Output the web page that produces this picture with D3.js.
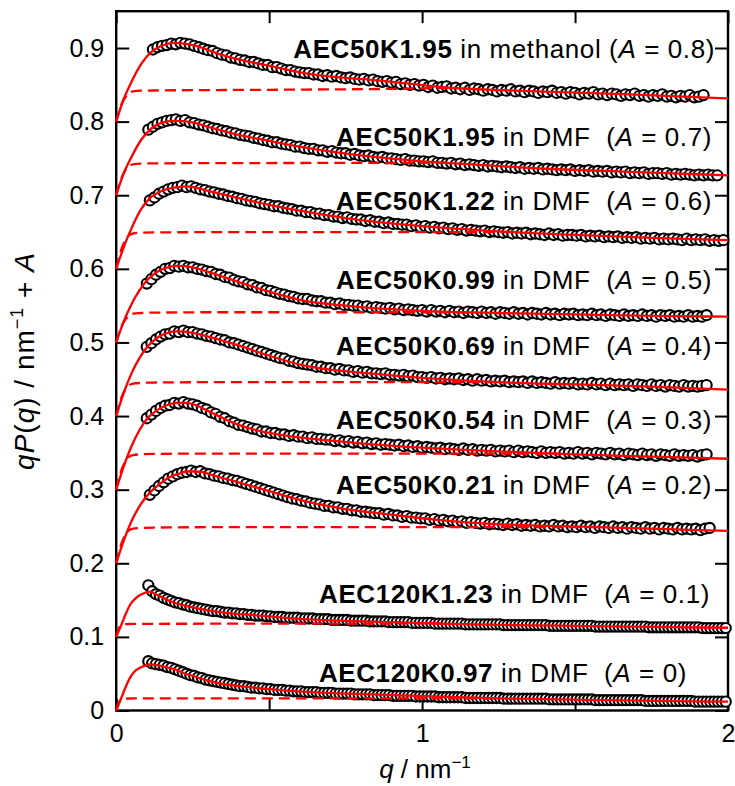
<!DOCTYPE html>
<html><head><meta charset="utf-8">
<script src="https://cdn.jsdelivr.net/npm/d3@7"></script>
<style>
html,body{margin:0;padding:0;background:#fff;}
svg{display:block;font-family:"Liberation Sans",Arial,Helvetica,sans-serif;}
text{white-space:pre;}
</style></head><body>
<svg id="chart" width="735" height="786"></svg>
<script>
// ---------------- DATA ----------------
const offsets = [0.8, 0.7, 0.6, 0.5, 0.4, 0.3, 0.2, 0.1, 0];
const offsetLabels = ["0.8", "0.7", "0.6", "0.5", "0.4", "0.3", "0.2", "0.1", "0"];
const sampleNames = ["AEC50K1.95", "AEC50K1.95", "AEC50K1.22", "AEC50K0.99", "AEC50K0.69", "AEC50K0.54", "AEC50K0.21", "AEC120K1.23", "AEC120K0.97"];
const solventTexts = [" in methanol (", " in DMF  (", " in DMF  (", " in DMF  (", " in DMF  (", " in DMF  (", " in DMF  (", " in DMF  (", " in DMF  ("];
// measured q grid (nm^-1): first q and step
const qStart = [0.12, 0.105, 0.11, 0.10, 0.10, 0.10, 0.11, 0.105, 0.105];
const qStep = [0.015, 0.015, 0.015, 0.015, 0.015, 0.015, 0.015, 0.0125, 0.0125];

// measured qP(q) / nm^-1 (without offset A)
const qP_AEC50K195_MeOH = [0.098,0.101,0.103,0.104,0.106,0.105,0.107,0.106,0.105,0.103,
0.101,0.099,0.097,0.096,0.093,0.091,0.090,0.087,0.086,0.084,
0.083,0.081,0.081,0.079,0.077,0.077,0.074,0.074,0.072,0.070,
0.070,0.068,0.067,0.066,0.066,0.064,0.064,0.062,0.063,0.061,
0.062,0.060,0.059,0.060,0.058,0.057,0.058,0.056,0.057,0.055,
0.054,0.055,0.053,0.054,0.051,0.052,0.050,0.051,0.049,0.050,
0.047,0.049,0.046,0.047,0.048,0.045,0.046,0.044,0.046,0.043,
0.045,0.044,0.042,0.044,0.043,0.041,0.043,0.042,0.044,0.041,
0.042,0.040,0.042,0.041,0.039,0.041,0.040,0.042,0.039,0.040,
0.038,0.040,0.039,0.037,0.039,0.038,0.040,0.037,0.038,0.036,
0.038,0.037,0.035,0.037,0.036,0.038,0.035,0.036,0.034,0.036,
0.035,0.037,0.034,0.035,0.033,0.035,0.034,0.036,0.033,0.034,
0.036];
const qP_AEC50K195_DMF = [0.089,0.093,0.097,0.099,0.101,0.102,0.103,0.101,0.102,0.099,
0.098,0.096,0.095,0.093,0.091,0.090,0.088,0.087,0.085,0.084,
0.082,0.081,0.080,0.078,0.077,0.075,0.074,0.072,0.072,0.070,
0.069,0.068,0.066,0.066,0.064,0.063,0.063,0.061,0.061,0.059,
0.060,0.058,0.057,0.057,0.055,0.056,0.054,0.053,0.054,0.052,
0.051,0.052,0.050,0.050,0.049,0.048,0.049,0.047,0.047,0.046,
0.046,0.045,0.046,0.044,0.044,0.043,0.044,0.042,0.043,0.041,
0.042,0.041,0.040,0.041,0.039,0.040,0.039,0.038,0.039,0.038,
0.037,0.038,0.036,0.037,0.036,0.037,0.035,0.036,0.035,0.034,
0.035,0.034,0.035,0.033,0.034,0.033,0.034,0.032,0.033,0.032,
0.033,0.031,0.032,0.031,0.032,0.030,0.031,0.030,0.031,0.029,
0.030,0.030,0.029,0.030,0.028,0.029,0.028,0.029,0.028,0.027,
0.028,0.027,0.028,0.027,0.027];
const qP_AEC50K122_DMF = [0.093,0.097,0.102,0.105,0.108,0.110,0.111,0.113,0.111,0.112,
0.110,0.108,0.107,0.105,0.104,0.102,0.101,0.099,0.098,0.096,
0.095,0.093,0.092,0.091,0.089,0.088,0.087,0.085,0.085,0.083,
0.082,0.081,0.079,0.079,0.077,0.077,0.075,0.075,0.073,0.073,
0.071,0.071,0.069,0.070,0.068,0.067,0.067,0.065,0.066,0.064,
0.064,0.062,0.063,0.061,0.061,0.060,0.060,0.058,0.059,0.057,
0.058,0.056,0.057,0.055,0.056,0.054,0.055,0.053,0.054,0.052,
0.053,0.052,0.051,0.052,0.050,0.051,0.050,0.049,0.050,0.048,
0.049,0.048,0.049,0.047,0.048,0.047,0.046,0.048,0.046,0.047,
0.045,0.046,0.046,0.045,0.046,0.044,0.045,0.044,0.045,0.043,
0.044,0.043,0.044,0.042,0.043,0.042,0.043,0.041,0.042,0.041,
0.042,0.040,0.041,0.040,0.041,0.040,0.039,0.041,0.039,0.040,
0.039,0.040,0.038,0.039,0.038,0.039];
const qP_AEC50K099_DMF = [0.080,0.086,0.092,0.096,0.100,0.101,0.104,0.103,0.104,0.102,
0.102,0.100,0.099,0.097,0.096,0.093,0.092,0.089,0.088,0.085,
0.083,0.082,0.079,0.078,0.075,0.074,0.071,0.070,0.068,0.066,
0.065,0.063,0.062,0.060,0.059,0.059,0.057,0.056,0.056,0.054,
0.054,0.052,0.053,0.051,0.051,0.050,0.050,0.048,0.049,0.047,
0.048,0.047,0.046,0.047,0.045,0.046,0.044,0.045,0.044,0.043,
0.044,0.042,0.044,0.042,0.043,0.041,0.043,0.041,0.042,0.040,
0.042,0.041,0.040,0.042,0.040,0.041,0.039,0.041,0.040,0.039,
0.041,0.039,0.040,0.038,0.040,0.039,0.038,0.040,0.038,0.039,
0.037,0.039,0.038,0.039,0.037,0.038,0.037,0.039,0.037,0.038,
0.036,0.038,0.037,0.036,0.038,0.036,0.037,0.036,0.038,0.036,
0.037,0.035,0.037,0.036,0.037,0.035,0.036,0.035,0.037,0.035,
0.036,0.035,0.037];
const qP_AEC50K069_DMF = [0.094,0.099,0.104,0.108,0.111,0.112,0.115,0.114,0.116,0.114,
0.114,0.112,0.111,0.109,0.108,0.106,0.104,0.103,0.100,0.099,
0.097,0.095,0.093,0.091,0.089,0.087,0.085,0.083,0.081,0.079,
0.078,0.075,0.074,0.072,0.071,0.070,0.069,0.067,0.067,0.065,
0.065,0.063,0.064,0.062,0.062,0.060,0.061,0.059,0.060,0.058,
0.058,0.057,0.058,0.056,0.056,0.055,0.056,0.054,0.055,0.053,
0.053,0.052,0.053,0.051,0.052,0.050,0.051,0.050,0.051,0.049,
0.050,0.048,0.050,0.048,0.049,0.047,0.048,0.047,0.048,0.046,
0.047,0.046,0.047,0.045,0.047,0.045,0.046,0.045,0.044,0.046,
0.044,0.045,0.044,0.045,0.043,0.044,0.043,0.045,0.043,0.044,
0.042,0.044,0.042,0.043,0.042,0.043,0.041,0.043,0.042,0.041,
0.043,0.041,0.042,0.040,0.042,0.041,0.040,0.042,0.040,0.041,
0.040,0.041,0.042];
const qP_AEC50K054_DMF = [0.097,0.102,0.107,0.111,0.114,0.115,0.118,0.117,0.119,0.117,
0.116,0.114,0.111,0.109,0.105,0.103,0.099,0.097,0.093,0.091,
0.088,0.087,0.085,0.083,0.082,0.079,0.079,0.077,0.077,0.075,
0.075,0.073,0.074,0.072,0.072,0.070,0.071,0.069,0.069,0.068,
0.068,0.066,0.067,0.065,0.066,0.064,0.065,0.063,0.064,0.062,
0.063,0.061,0.062,0.061,0.060,0.061,0.059,0.060,0.058,0.059,
0.057,0.058,0.057,0.056,0.057,0.055,0.056,0.055,0.054,0.056,
0.054,0.055,0.053,0.054,0.053,0.054,0.052,0.053,0.052,0.053,
0.051,0.053,0.051,0.052,0.051,0.050,0.052,0.050,0.051,0.050,
0.051,0.049,0.050,0.049,0.051,0.049,0.050,0.048,0.050,0.049,
0.048,0.050,0.048,0.049,0.047,0.049,0.048,0.047,0.049,0.047,
0.048,0.046,0.048,0.047,0.046,0.048,0.046,0.047,0.046,0.047,
0.045,0.047,0.048];
const qP_AEC50K021_DMF = [0.093,0.099,0.105,0.110,0.115,0.118,0.121,0.123,0.124,0.126,
0.124,0.125,0.122,0.121,0.119,0.118,0.116,0.115,0.113,0.112,
0.110,0.108,0.106,0.104,0.102,0.100,0.098,0.096,0.094,0.092,
0.090,0.088,0.087,0.085,0.084,0.082,0.081,0.080,0.078,0.078,
0.076,0.076,0.074,0.074,0.072,0.072,0.070,0.070,0.069,0.068,
0.068,0.066,0.067,0.065,0.065,0.063,0.064,0.062,0.062,0.061,
0.061,0.059,0.060,0.058,0.059,0.057,0.058,0.056,0.057,0.055,
0.056,0.055,0.054,0.055,0.053,0.054,0.053,0.052,0.054,0.052,
0.053,0.051,0.052,0.051,0.052,0.050,0.051,0.050,0.052,0.050,
0.051,0.049,0.050,0.049,0.051,0.049,0.050,0.048,0.050,0.049,
0.048,0.050,0.048,0.049,0.047,0.049,0.048,0.047,0.049,0.047,
0.048,0.046,0.048,0.047,0.046,0.048,0.046,0.047,0.046,0.047,
0.045,0.047,0.048];
const qP_AEC120K123_DMF = [0.070,0.062,0.058,0.056,0.053,0.051,0.049,0.047,0.046,0.044,
0.043,0.041,0.040,0.039,0.038,0.037,0.036,0.035,0.035,0.034,
0.033,0.033,0.032,0.032,0.031,0.031,0.030,0.030,0.029,0.029,
0.029,0.028,0.028,0.027,0.027,0.027,0.026,0.026,0.026,0.026,
0.025,0.025,0.025,0.025,0.024,0.024,0.024,0.024,0.023,0.023,
0.023,0.023,0.023,0.022,0.022,0.022,0.022,0.022,0.021,0.021,
0.021,0.021,0.021,0.020,0.020,0.020,0.020,0.020,0.020,0.019,
0.019,0.019,0.019,0.019,0.019,0.018,0.018,0.018,0.018,0.018,
0.018,0.018,0.018,0.017,0.017,0.017,0.017,0.017,0.017,0.017,
0.017,0.017,0.017,0.016,0.016,0.016,0.016,0.016,0.016,0.016,
0.016,0.016,0.016,0.016,0.016,0.015,0.015,0.015,0.015,0.015,
0.015,0.015,0.015,0.015,0.015,0.015,0.015,0.014,0.014,0.014,
0.014,0.014,0.014,0.014,0.014,0.014,0.014,0.014,0.014,0.014,
0.014,0.013,0.013,0.013,0.013,0.013,0.013,0.013,0.013,0.013,
0.013,0.013,0.013,0.013,0.013,0.012,0.012,0.012,0.012,0.012,
0.012,0.012];
const qP_AEC120K097_DMF = [0.067,0.064,0.063,0.062,0.061,0.059,0.058,0.056,0.054,0.052,
0.050,0.048,0.047,0.045,0.044,0.042,0.041,0.040,0.039,0.038,
0.037,0.036,0.035,0.034,0.033,0.033,0.032,0.031,0.031,0.030,
0.030,0.029,0.029,0.028,0.028,0.028,0.027,0.027,0.026,0.026,
0.026,0.025,0.025,0.025,0.025,0.024,0.024,0.024,0.024,0.023,
0.023,0.023,0.023,0.023,0.022,0.022,0.022,0.022,0.022,0.021,
0.021,0.021,0.021,0.021,0.020,0.020,0.020,0.020,0.020,0.020,
0.019,0.019,0.019,0.019,0.019,0.019,0.018,0.018,0.018,0.018,
0.018,0.018,0.018,0.017,0.017,0.017,0.017,0.017,0.017,0.017,
0.017,0.017,0.017,0.016,0.016,0.016,0.016,0.016,0.016,0.016,
0.016,0.016,0.016,0.016,0.016,0.015,0.015,0.015,0.015,0.015,
0.015,0.015,0.015,0.015,0.015,0.015,0.015,0.014,0.014,0.014,
0.014,0.014,0.014,0.014,0.014,0.014,0.014,0.014,0.014,0.014,
0.013,0.013,0.013,0.013,0.013,0.013,0.013,0.013,0.013,0.013,
0.013,0.013,0.013,0.012,0.012,0.012,0.012,0.012,0.012,0.012,
0.012,0.012];

// fitted curves (solid): q and qP values
const fitQ_AEC50K195_MeOH = [0,0.023,0.05,0.083,0.116,0.143,0.19,0.25,0.35,0.4,0.51,0.62,0.73,0.84,0.95,1.06,1.35,1.68,2.0];
const fitV_AEC50K195_MeOH = [0,0.029,0.054,0.079,0.095,0.102,0.107,0.104,0.090,0.0845,0.075,0.0655,0.060,0.0565,0.052,0.047,0.0415,0.037,0.0315];
const fitQ_AEC50K195_DMF = [0,0.023,0.05,0.083,0.116,0.145,0.19,0.25,0.3,0.4,0.5,0.6,0.8,1.0,1.2,1.4,1.6,1.8,2.0];
const fitV_AEC50K195_DMF = [0,0.028,0.052,0.076,0.091,0.098,0.101,0.099,0.093,0.082,0.074,0.066,0.054,0.046,0.041,0.036,0.033,0.030,0.027];
const fitQ_AEC50K122_DMF = [0,0.025,0.05,0.08,0.11,0.15,0.2,0.23,0.3,0.4,0.5,0.6,0.75,1.0,1.25,1.5,1.75,2.0];
const fitV_AEC50K122_DMF = [0,0.030,0.055,0.080,0.096,0.106,0.111,0.112,0.106,0.096,0.087,0.079,0.069,0.058,0.051,0.046,0.042,0.039];
const fitQ_AEC50K099_DMF = [0,0.025,0.05,0.075,0.1,0.13,0.16,0.2,0.25,0.3,0.4,0.5,0.6,0.7,0.8,1.0,1.25,1.5,1.75,2.0];
const fitV_AEC50K099_DMF = [0,0.029,0.052,0.070,0.084,0.095,0.101,0.104,0.102,0.096,0.082,0.069,0.058,0.052,0.048,0.043,0.040,0.038,0.036,0.035];
const fitQ_AEC50K069_DMF = [0,0.025,0.05,0.075,0.1,0.13,0.16,0.2,0.25,0.3,0.4,0.5,0.6,0.7,0.8,1.0,1.25,1.5,1.75,2.0];
const fitV_AEC50K069_DMF = [0,0.032,0.058,0.078,0.093,0.105,0.112,0.115,0.113,0.108,0.096,0.082,0.070,0.063,0.059,0.052,0.046,0.043,0.040,0.036];
const fitQ_AEC50K054_DMF = [0,0.025,0.05,0.075,0.1,0.13,0.16,0.2,0.23,0.27,0.3,0.35,0.4,0.5,0.6,0.8,1.0,1.25,1.5,1.75,2.0];
const fitV_AEC50K054_DMF = [0,0.032,0.059,0.080,0.096,0.107,0.114,0.118,0.118,0.113,0.107,0.097,0.088,0.077,0.071,0.063,0.057,0.052,0.048,0.045,0.042];
const fitQ_AEC50K021_DMF = [0,0.025,0.05,0.08,0.11,0.14,0.17,0.2,0.24,0.28,0.32,0.4,0.5,0.6,0.73,0.9,1.05,1.25,1.5,1.75,2.0];
const fitV_AEC50K021_DMF = [0,0.031,0.057,0.080,0.096,0.107,0.116,0.121,0.125,0.124,0.119,0.110,0.098,0.086,0.075,0.066,0.059,0.053,0.050,0.047,0.044];
const fitQ_AEC120K123_DMF = [0,0.0185,0.03,0.046,0.06,0.078,0.095,0.108,0.125,0.144,0.18,0.252,0.35,0.47,0.6,0.73,0.9,1.06,1.3,1.5,1.75,2.0];
const fitV_AEC120K123_DMF = [0,0.018,0.030,0.044,0.051,0.057,0.060,0.0615,0.059,0.055,0.048,0.040,0.033,0.029,0.0245,0.022,0.020,0.018,0.016,0.015,0.0135,0.0124];
const fitQ_AEC120K097_DMF = [0,0.0185,0.03,0.046,0.06,0.078,0.095,0.111,0.13,0.16,0.187,0.22,0.25,0.296,0.35,0.405,0.5,0.568,0.73,0.9,1.057,1.3,1.6,2.0];
const fitV_AEC120K097_DMF = [0,0.019,0.031,0.045,0.053,0.058,0.061,0.0625,0.062,0.059,0.0565,0.051,0.047,0.041,0.036,0.033,0.029,0.0267,0.0233,0.021,0.0187,0.016,0.014,0.012];

// dashed component curves: q and qP values
const dashQ_AEC50K195_MeOH = [0,0.005,0.01,0.02,0.03,0.04,0.055,0.08,0.12,0.3,0.6,0.9,1.1];
const dashV_AEC50K195_MeOH = [0,0.008,0.015,0.026,0.033,0.038,0.041,0.042,0.0423,0.0428,0.0435,0.0445,0.046];
const dashQ_AEC50K195_DMF = [0,0.005,0.01,0.02,0.03,0.04,0.055,0.08,0.12,0.3,0.6,0.9,1.08];
const dashV_AEC50K195_DMF = [0,0.008,0.015,0.026,0.034,0.039,0.042,0.043,0.0433,0.0436,0.0438,0.044,0.0442];
const dashQ_AEC50K122_DMF = [0,0.005,0.01,0.02,0.03,0.04,0.055,0.08,0.12,0.3,0.6,0.9,1.3];
const dashV_AEC50K122_DMF = [0,0.009,0.017,0.030,0.039,0.045,0.048,0.049,0.0495,0.0498,0.050,0.050,0.050];
const dashQ_AEC50K099_DMF = [0,0.005,0.01,0.02,0.03,0.04,0.055,0.08,0.12,0.3,0.6,0.9,1.15];
const dashV_AEC50K099_DMF = [0,0.007,0.014,0.024,0.031,0.036,0.039,0.040,0.0405,0.041,0.041,0.041,0.041];
const dashQ_AEC50K069_DMF = [0,0.005,0.01,0.02,0.03,0.04,0.055,0.08,0.12,0.3,0.6,0.9,1.25];
const dashV_AEC50K069_DMF = [0,0.008,0.016,0.028,0.036,0.041,0.044,0.045,0.0455,0.046,0.046,0.046,0.046];
const dashQ_AEC50K054_DMF = [0,0.005,0.01,0.02,0.03,0.04,0.055,0.08,0.12,0.3,0.6,0.9,1.44];
const dashV_AEC50K054_DMF = [0,0.009,0.017,0.030,0.038,0.044,0.047,0.048,0.0485,0.049,0.049,0.049,0.049];
const dashQ_AEC50K021_DMF = [0,0.005,0.01,0.02,0.03,0.04,0.055,0.08,0.12,0.3,0.6,0.9,1.58];
const dashV_AEC50K021_DMF = [0,0.009,0.017,0.030,0.038,0.044,0.047,0.048,0.0485,0.049,0.049,0.049,0.049];
const dashQ_AEC120K123_DMF = [0,0.005,0.01,0.02,0.03,0.04,0.055,0.08,0.12,0.3,0.6,0.9,1.06];
const dashV_AEC120K123_DMF = [0,0.008,0.013,0.0165,0.0172,0.0175,0.0177,0.0178,0.0178,0.0179,0.018,0.0182,0.0185];
const dashQ_AEC120K097_DMF = [0,0.005,0.01,0.02,0.03,0.04,0.055,0.08,0.12,0.3,0.6,0.9,1.25];
const dashV_AEC120K097_DMF = [0,0.0075,0.012,0.0155,0.016,0.0163,0.0165,0.0166,0.0166,0.0166,0.0166,0.0166,0.0166];

// axis ticks
const xTicks = [0, 0.5, 1, 1.5, 2];
const xTickLabels = ["0", "", "1", "", "2"];
const yTicks = [0, 0.1, 0.2, 0.3, 0.4, 0.5, 0.6, 0.7, 0.8, 0.9];
const yTickLabels = ["0", "0.1", "0.2", "0.3", "0.4", "0.5", "0.6", "0.7", "0.8", "0.9"];

// label anchor (right end of text) in data coordinates
const labelQ = [1.9575, 1.9477, 1.9477, 1.9477, 1.9477, 1.9477, 1.9477, 1.9412, 1.866];
const labelV = [0.8864, 0.7662, 0.680, 0.5726, 0.4830, 0.3824, 0.2941, 0.1460, 0.0391];

// ---------------- CHART ----------------
const circleData = [qP_AEC50K195_MeOH, qP_AEC50K195_DMF, qP_AEC50K122_DMF, qP_AEC50K099_DMF, qP_AEC50K069_DMF, qP_AEC50K054_DMF, qP_AEC50K021_DMF, qP_AEC120K123_DMF, qP_AEC120K097_DMF];
const fitQs = [fitQ_AEC50K195_MeOH, fitQ_AEC50K195_DMF, fitQ_AEC50K122_DMF, fitQ_AEC50K099_DMF, fitQ_AEC50K069_DMF, fitQ_AEC50K054_DMF, fitQ_AEC50K021_DMF, fitQ_AEC120K123_DMF, fitQ_AEC120K097_DMF];
const fitVs = [fitV_AEC50K195_MeOH, fitV_AEC50K195_DMF, fitV_AEC50K122_DMF, fitV_AEC50K099_DMF, fitV_AEC50K069_DMF, fitV_AEC50K054_DMF, fitV_AEC50K021_DMF, fitV_AEC120K123_DMF, fitV_AEC120K097_DMF];
const dashQs = [dashQ_AEC50K195_MeOH, dashQ_AEC50K195_DMF, dashQ_AEC50K122_DMF, dashQ_AEC50K099_DMF, dashQ_AEC50K069_DMF, dashQ_AEC50K054_DMF, dashQ_AEC50K021_DMF, dashQ_AEC120K123_DMF, dashQ_AEC120K097_DMF];
const dashVs = [dashV_AEC50K195_MeOH, dashV_AEC50K195_DMF, dashV_AEC50K122_DMF, dashV_AEC50K099_DMF, dashV_AEC50K069_DMF, dashV_AEC50K054_DMF, dashV_AEC50K021_DMF, dashV_AEC120K123_DMF, dashV_AEC120K097_DMF];

const series = offsets.map((A, i) => ({
  A,
  points: circleData[i].map((v, k) => ({ q: qStart[i] + k * qStep[i], v: v + A })),
  fit: fitQs[i].map((q, k) => ({ q, v: fitVs[i][k] + A })),
  dash: dashQs[i].map((q, k) => ({ q, v: dashVs[i][k] + A }))
}));

const x = d3.scaleLinear().domain([0, 2]).range([116.2, 728]);
const y = d3.scaleLinear().domain([0, 0.95]).range([710.5, 11.2]);
const svg = d3.select("#chart");

const FS = 25;
function styleAxis(g) {
  g.attr("font-size", null).attr("font-family", null);
  g.select(".domain").remove();
  g.selectAll(".tick line").attr("stroke", "#000").attr("stroke-width", 2);
  g.selectAll(".tick text").attr("fill", "#000").style("font-size", FS + "px");
}

svg.append("g").attr("transform", `translate(${x(0)},0)`)
  .call(d3.axisLeft(y).tickValues(yTicks).tickSizeInner(-13).tickSizeOuter(0).tickPadding(12)
    .tickFormat((d, i) => yTickLabels[i]))
  .call(styleAxis);
svg.append("g").attr("transform", `translate(${x(2)},0)`)
  .call(d3.axisRight(y).tickValues(yTicks).tickSizeInner(-13).tickSizeOuter(0).tickFormat(""))
  .call(styleAxis);
svg.append("g").attr("transform", `translate(0,${y(0)})`)
  .call(d3.axisBottom(x).tickValues(xTicks).tickSizeInner(-12).tickSizeOuter(0).tickPadding(14)
    .tickFormat((d, i) => xTickLabels[i]))
  .call(styleAxis);
svg.append("g").attr("transform", `translate(0,${y(0.95)})`)
  .call(d3.axisTop(x).tickValues(xTicks).tickSizeInner(-12).tickSizeOuter(0).tickFormat(""))
  .call(styleAxis);

svg.append("rect")
  .attr("x", x(0)).attr("y", y(0.95))
  .attr("width", x(2) - x(0)).attr("height", y(0) - y(0.95))
  .attr("fill", "none").attr("stroke", "#000").attr("stroke-width", 2.4);

// circles
const dataG = svg.append("g");
series.forEach(s => {
  dataG.append("g").selectAll("circle").data(s.points).join("circle")
    .attr("cx", d => x(d.q)).attr("cy", d => y(d.v)).attr("r", 5.1)
    .attr("fill", "#fff").attr("stroke", "#000").attr("stroke-width", 2.1);
});

const line = d3.line().x(d => x(d.q)).y(d => y(d.v)).curve(d3.curveMonotoneX);
series.forEach(s => {
  svg.append("path").attr("d", line(s.dash)).attr("fill", "none")
    .attr("stroke", "#ff0000").attr("stroke-width", 2.3).attr("stroke-dasharray", "11,6");
});
series.forEach(s => {
  svg.append("path").attr("d", line(s.fit)).attr("fill", "none")
    .attr("stroke", "#ff0000").attr("stroke-width", 2.3);
});

// labels
offsets.forEach((A, i) => {
  const t = svg.append("text").attr("x", x(labelQ[i])).attr("y", y(labelV[i]))
    .attr("text-anchor", "end").style("font-size", "26px").style("letter-spacing", "0.6px")
    .attr("fill", "#000");
  t.append("tspan").attr("font-weight", "bold").text(sampleNames[i]);
  t.append("tspan").text(solventTexts[i]);
  t.append("tspan").attr("font-style", "italic").text("A");
  t.append("tspan").text(" = " + offsetLabels[i] + ")");
});

// axis titles
const yt = svg.append("text").attr("transform", "translate(34,361) rotate(-90)")
  .attr("text-anchor", "middle").style("font-size", "28px").style("letter-spacing", "1px");
yt.append("tspan").attr("font-style", "italic").text("qP");
yt.append("tspan").text("(");
yt.append("tspan").attr("font-style", "italic").text("q");
yt.append("tspan").text(") / nm");
yt.append("tspan").attr("dy", -11).style("font-size", "18px").text("\u22121");
yt.append("tspan").attr("dy", 11).text(" + ");
yt.append("tspan").attr("font-style", "italic").text("A");

const xt = svg.append("text").attr("x", 425).attr("y", 778)
  .attr("text-anchor", "middle").style("font-size", "26px");
xt.append("tspan").attr("font-style", "italic").text("q");
xt.append("tspan").text(" / nm");
xt.append("tspan").attr("dy", -10).style("font-size", "17px").text("\u22121");
</script></body></html>
